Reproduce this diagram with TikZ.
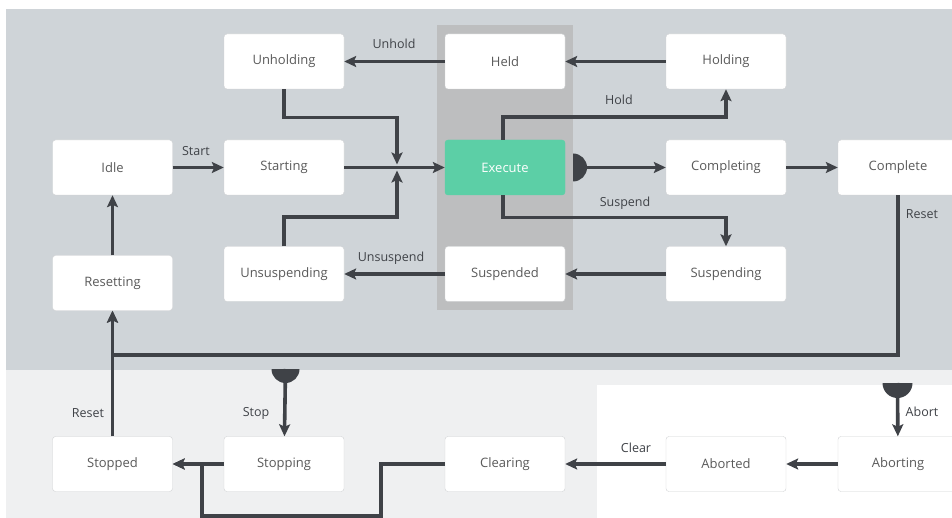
\documentclass[tikz,border=0pt]{standalone}
\usepackage{fontspec}
\setmainfont{Open Sans}
\usetikzlibrary{arrows.meta}
\definecolor{topbg}{HTML}{CFD4D8}
\definecolor{lowbg}{HTML}{EFF0F1}
\definecolor{bandbg}{HTML}{BDBEBF}
\definecolor{execfill}{HTML}{5CCFA6}
\definecolor{linecol}{HTML}{3F4247}
\definecolor{boxtext}{HTML}{5A5A5A}
\definecolor{boxline}{HTML}{D0D2D4}

\begin{document}
\begin{tikzpicture}[x=1pt, y=-1pt,
    state/.style={draw=boxline, fill=white, rounded corners=3pt, minimum width=120pt, minimum height=55pt, text=boxtext, font=\fontsize{13}{15}\selectfont},
    active/.style={state, draw=execfill, fill=execfill, text=white},
    link/.style={line width=3.6pt, draw=linecol},
    trans/.style={link, -{Stealth[length=12pt, width=11pt, inset=2.5pt]}},
    lbl/.style={text=linecol, font=\fontsize{12.5}{15}\selectfont, inner sep=0pt}]
    \useasboundingbox (0,0) rectangle (952,518);
    \clip (0,0) rectangle (952,518);

    \fill[topbg] (6,9) rectangle (952,370);
    \fill[lowbg] (6,370) rectangle (952,518);
    \fill[white] (597,385) rectangle (952,518);
    \fill[bandbg] (437,25) rectangle (573,310);

    \node[state] (unholding) at (284,61.5) {Unholding};
    \node[state] (held) at (505,61.5) {Held};
    \node[state] (holding) at (726,61.5) {Holding};
    \node[state] (idle) at (112.5,167.5) {Idle};
    \node[state] (starting) at (284,167.5) {Starting};
    \node[active] (execute) at (505,167.5) {Execute};
    \node[state] (completing) at (726,167.5) {Completing};
    \node[state] (complete) at (898,167.5) {Complete};
    \node[state] (resetting) at (112.5,283) {Resetting};
    \node[state] (unsuspending) at (284,274) {Unsuspending};
    \node[state] (suspended) at (505,274) {Suspended};
    \node[state] (suspending) at (726,274) {Suspending};
    \node[state] (stopped) at (112.5,464) {Stopped};
    \node[state] (stopping) at (284,464) {Stopping};
    \node[state] (clearing) at (505,464) {Clearing};
    \node[state] (aborted) at (726,464) {Aborted};
    \node[state] (aborting) at (898,464) {Aborting};

    \coordinate (merge) at (397,167.5);
    \coordinate (execdot) at (573,167.5);
    \coordinate (stopdot) at (285.5,369);
    \coordinate (abortdot) at (897.5,383);
    \coordinate (stopjoin) at (202,464);

    \draw[trans] (idle) -- (starting);
    \draw[trans] (starting) -- (execute);
    \draw[trans] (unholding.south) -- ++(0,28.5) -| ([yshift=3pt]merge);
    \draw[trans] (unsuspending.north) -- ++(0,-29) -| ([yshift=-3pt]merge);
    \draw[trans] ([xshift=-2pt]execute.north) -- ++(0,-22.5) -| (holding.south);
    \draw[trans] ([xshift=-2pt]execute.south) -- ++(0,22.5) -| (suspending.north);
    \draw[trans] (holding) -- (held);
    \draw[trans] (held) -- (unholding);
    \draw[trans] (suspending) -- (suspended);
    \draw[trans] (suspended) -- (unsuspending);
    \draw[trans] (execdot) -- (completing);
    \draw[trans] (completing) -- (complete);
    \draw[trans] (complete.south) -- ++(0,160) -| (resetting.south);
    \draw[trans] (resetting) -- (idle);
    \draw[trans] (stopped) -- (resetting);
    \draw[trans] (stopdot) -- (stopping);
    \draw[trans] (stopping) -- (stopped);
    \draw[trans] (clearing.west) -| ++(-64,52) -| (stopjoin) -- (stopped.east);
    \draw[trans] (abortdot) -- (aborting);
    \draw[trans] (aborting) -- (aborted);
    \draw[trans] (aborted) -- (clearing);

    \fill[linecol] ([yshift=14pt]execdot) arc[start angle=90, end angle=-90, radius=14pt] -- cycle;
    \fill[linecol] ([xshift=-14pt]stopdot) arc[start angle=180, end angle=360, radius=14pt] -- cycle;
    \fill[linecol] ([xshift=-15pt]abortdot) arc[start angle=180, end angle=360, radius=15pt] -- cycle;

    \node[lbl] (lstart) at (196,151) {Start};
    \node[lbl] (lunhold) at (394,44) {Unhold};
    \node[lbl] (lhold) at (619,100) {Hold};
    \node[lbl] (lsuspend) at (625,203) {Suspend};
    \node[lbl] (lunsuspend) at (391,258) {Unsuspend};
    \node[lbl] (lresetc) at (922,214) {Reset};
    \node[lbl] (lresets) at (88,413) {Reset};
    \node[lbl] (lstop) at (256,413) {Stop};
    \node[lbl] (labort) at (922,412) {Abort};
    \node[lbl] (lclear) at (636,448) {Clear};
\end{tikzpicture}
\end{document}
